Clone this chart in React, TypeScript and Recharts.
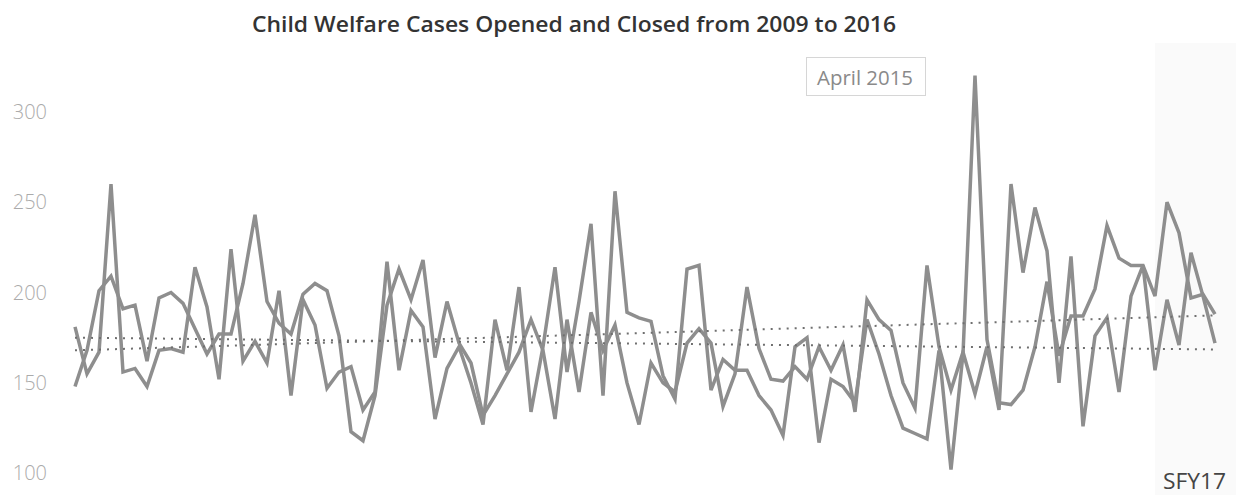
import React from "react";
import { LineChart, Line, XAxis, YAxis, ReferenceLine, ReferenceArea } from "recharts";

// page has an 8px default margin; the chart sits flush at 0,0
document.body.style.margin = "0";

const W = 1236;
const H = 495;
const FONT = "'Open Sans', 'Noto Sans', sans-serif";
const LINE_GRAY = "#8e8e8e";
const TREND_GRAY = "#6f6f6f";

const TITLE = "Child Welfare Cases Opened and Closed from 2009 to 2016";
const CALLOUT = "April 2015";
const BAND_LABEL = "SFY17";
const BAND_START = "Jul 2016";

const YEARS = ["2009", "2010", "2011", "2012", "2013", "2014", "2015", "2016"];
const MONTHS = ["Jan", "Feb", "Mar", "Apr", "May", "Jun", "Jul", "Aug", "Sep", "Oct", "Nov", "Dec"];

// monthly counts, Jan 2009 .. Dec 2016
const OPENED = [
  181, 155, 167, 260, 156, 158, 148, 168, 169, 167, 214, 192, 152, 224, 162, 173,
  161, 201, 143, 196, 182, 147, 156, 159, 135, 145, 217, 157, 190, 181, 130,
  158, 170, 150, 127, 185, 157, 203, 134, 170, 214, 156, 195,
  238, 143, 256, 189, 186, 184, 154, 141, 213, 215, 146, 163, 157, 157, 143, 135, 121, 170, 175, 117,
  152, 148, 139, 185, 166, 143, 125, 122, 119, 168, 102, 166, 320,
  174, 139, 138, 146, 170, 206, 165, 187, 187, 202, 237, 219, 215, 215, 198, 250, 233, 197, 199, 188,
];
const CLOSED = [
  148, 168, 201, 209, 191, 193, 162, 197, 200, 194, 180, 166, 177, 177, 205, 243,
  195, 183, 177, 199, 205, 201, 176, 123, 118, 143, 193, 213, 196, 218, 164,
  195, 172, 161, 132, 143, 155, 167, 185, 168, 130, 185, 145,
  189, 168, 182, 150, 127, 161, 150, 145, 172, 180, 172, 137, 155, 203, 169, 152, 151, 159, 152, 170,
  157, 171, 134, 196, 185, 179, 150, 136, 215, 170, 146, 167, 144,
  170, 135, 260, 211, 247, 223, 150, 220, 126, 176, 186, 145, 198, 215, 157, 196, 171, 222, 198, 172,
];

// linear trend end points [first month, last month]
const TREND_OPENED = [168, 187.3];
const TREND_CLOSED = [175, 168.5];

const Y_TICKS = [100, 150, 200, 250, 300];
const Y_DOMAIN = [88, 338];
const X_MAX = 96.75; // plot runs a little past the last month, to the page edge

const labels = YEARS.flatMap((y) => MONTHS.map((m) => `${m} ${y}`));
const data = labels.map((label, i) => ({ i, label, opened: OPENED[i], closed: CLOSED[i] }));
const last = data.length - 1;
const bandStart = labels.indexOf(BAND_START);

export default function App() {
  return (
    <div style={{ position: "relative", width: W, height: H, background: "#fff" }}>
      <LineChart width={W} height={H} data={data} margin={{ top: 43, right: 0, bottom: 0, left: 0 }}>
        <XAxis dataKey="i" type="number" domain={[0, X_MAX]} hide />
        <YAxis
          type="number"
          domain={Y_DOMAIN}
          ticks={Y_TICKS}
          allowDataOverflow
          width={75}
          axisLine={false}
          tickLine={false}
          tickSize={0}
          tickMargin={28}
          tick={{ fill: "#ababab", fontSize: 20, fontFamily: FONT, fontWeight: 300 }}
        />
        <ReferenceArea x1={bandStart} x2={X_MAX} fill="#f7f7f7" fillOpacity={0.6} stroke="none" ifOverflow="hidden" />
        <Line
          type="linear"
          dataKey="closed"
          stroke={LINE_GRAY}
          strokeWidth={3.5}
          dot={false}
          activeDot={false}
          isAnimationActive={false}
        />
        <Line
          type="linear"
          dataKey="opened"
          stroke={LINE_GRAY}
          strokeWidth={3.5}
          dot={false}
          activeDot={false}
          isAnimationActive={false}
        />
        <ReferenceLine
          segment={[{ x: 0, y: TREND_OPENED[0] }, { x: last, y: TREND_OPENED[1] }]}
          stroke={TREND_GRAY}
          strokeWidth={2}
          strokeDasharray="2 6"
          ifOverflow="visible"
        />
        <ReferenceLine
          segment={[{ x: 0, y: TREND_CLOSED[0] }, { x: last, y: TREND_CLOSED[1] }]}
          stroke={TREND_GRAY}
          strokeWidth={2}
          strokeDasharray="2 6"
          ifOverflow="visible"
        />
      </LineChart>

      <svg width={W} height={H} style={{ position: "absolute", left: 0, top: 0, pointerEvents: "none" }}>
        <text
          x={252}
          y={32}
          fontFamily={FONT}
          fontWeight={600}
          fontSize={21}
          fill="#333"
          textLength={644}
          lengthAdjust="spacingAndGlyphs"
        >
          {TITLE}
        </text>
        <rect x={806.5} y={57.5} width={119} height={38} fill="#fff" stroke="#d6d6d6" />
        <text x={817} y={85} fontFamily={FONT} fontSize={20} fill="#8a8a8a" textLength={96} lengthAdjust="spacingAndGlyphs">
          {CALLOUT}
        </text>
        <text x={1163} y={489} fontFamily={FONT} fontSize={21} fill="#444" textLength={63} lengthAdjust="spacingAndGlyphs">
          {BAND_LABEL}
        </text>
      </svg>
    </div>
  );
}
